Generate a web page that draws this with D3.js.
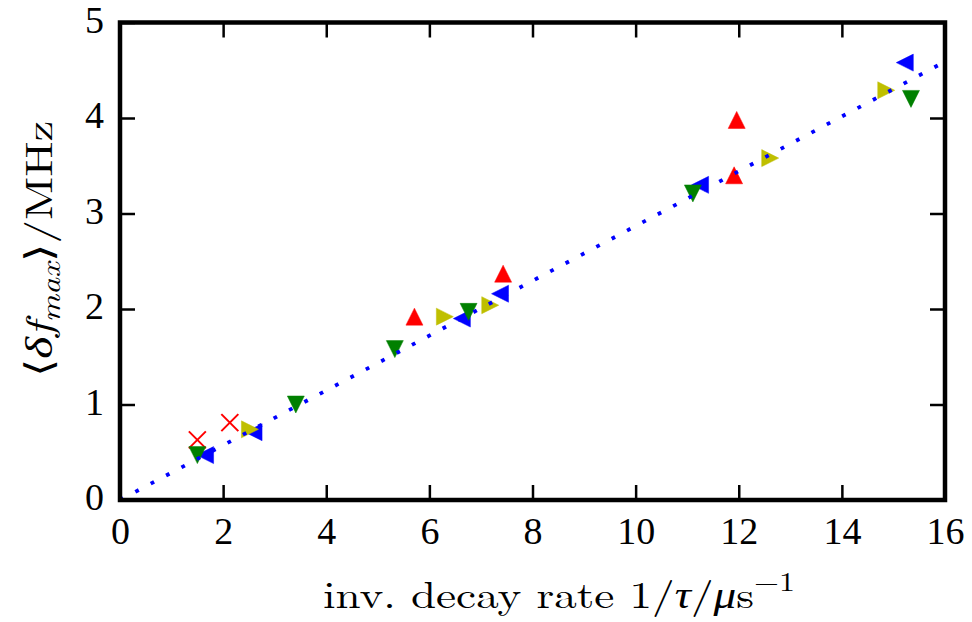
<!DOCTYPE html>
<html>
<head>
<meta charset="utf-8">
<script src="https://cdn.jsdelivr.net/npm/d3@7"></script>
<style>
  body { margin: 0; background: #fff; }
  svg { display: block; }
  text { font-family: "Latin Modern Roman", "CMU Serif", "Liberation Serif", serif; }
</style>
</head>
<body>
<svg id="chart" width="972" height="622"></svg>
<script>
// ---- data ----
const redCross = [[1.50, 0.63], [2.13, 0.81]];
const redUp = [[5.71, 1.92], [7.43, 2.37], [11.91, 3.40], [11.96, 3.98]];
const yellowRight = [[2.52, 0.74], [6.30, 1.92], [7.18, 2.04], [12.61, 3.58], [14.86, 4.29]];
const blueLeft = [[1.65, 0.47], [2.59, 0.71], [6.63, 1.90], [7.37, 2.16], [11.25, 3.30], [15.22, 4.58]];
const greenDown = [[1.50, 0.47], [3.41, 1.00], [5.33, 1.58], [6.76, 1.97], [11.11, 3.21], [15.34, 4.20]];
const fitLine = [[0, 0], [16, 4.59]];
const xTicks = [0, 2, 4, 6, 8, 10, 12, 14, 16];
const yTicks = [0, 1, 2, 3, 4, 5];

// ---- layout ----
const svg = d3.select("#chart");
const L = 120, R = 945, T = 22.5, B = 500;
const x = d3.scaleLinear().domain([0, 16]).range([L, R]);
const y = d3.scaleLinear().domain([0, 5]).range([B, T]);

const plot = svg.append("g");
svg.append("clipPath").attr("id", "clip")
  .append("rect").attr("x", L).attr("y", T).attr("width", R - L).attr("height", B - T);
plot.attr("clip-path", "url(#clip)");

const S = 17; // triangle size
function tri(dir) {
  const h = S / 2;
  if (dir === "up") return `M0,${-h}L${h},${h}L${-h},${h}Z`;
  if (dir === "down") return `M0,${h}L${h},${-h}L${-h},${-h}Z`;
  if (dir === "left") return `M${-h},0L${h},${-h}L${h},${h}Z`;
  return `M${h},0L${-h},${-h}L${-h},${h}Z`;
}
function drawTri(data, dir, color) {
  plot.append("g").selectAll("path").data(data).join("path")
    .attr("d", tri(dir))
    .attr("transform", d => `translate(${x(d[0])},${y(d[1])})`)
    .attr("fill", color)
    .attr("stroke", color).attr("stroke-width", 0.5);
}
// crosses
plot.append("g").selectAll("path").data(redCross).join("path")
  .attr("d", `M-8.5,-8.5L8.5,8.5M-8.5,8.5L8.5,-8.5`)
  .attr("transform", d => `translate(${x(d[0])},${y(d[1])})`)
  .attr("fill", "none").attr("stroke", "#ff0000").attr("stroke-width", 2);
drawTri(redUp, "up", "#ff0000");
drawTri(blueLeft, "left", "#0000ff");
drawTri(yellowRight, "right", "#bfbf00");
drawTri(greenDown, "down", "#008000");

// fit line (dotted)
plot.append("path").datum(fitLine)
  .attr("d", d3.line().x(d => x(d[0])).y(d => y(d[1])))
  .attr("fill", "none").attr("stroke", "#0000ff")
  .attr("stroke-width", 3.8).attr("stroke-dasharray", "3.8,13.6");

// axes
const fs = 38;
const gx = svg.append("g").attr("transform", `translate(0,${B})`)
  .call(d3.axisBottom(x).tickValues(xTicks).tickFormat(d3.format("d")).tickSizeInner(-15).tickSizeOuter(0).tickPadding(17));
const gxt = svg.append("g").attr("transform", `translate(0,${T})`)
  .call(d3.axisTop(x).tickValues(xTicks).tickFormat("").tickSizeInner(-15).tickSizeOuter(0));
const gy = svg.append("g").attr("transform", `translate(${L},0)`)
  .call(d3.axisLeft(y).tickValues(yTicks).tickFormat(d3.format("d")).tickSizeInner(-15).tickSizeOuter(0).tickPadding(16));
const gyr = svg.append("g").attr("transform", `translate(${R},0)`)
  .call(d3.axisRight(y).tickValues(yTicks).tickFormat("").tickSizeInner(-15).tickSizeOuter(0));
[gx, gxt, gy, gyr].forEach(g => {
  g.select(".domain").remove();
  g.selectAll(".tick line").attr("stroke", "#000").attr("stroke-width", 2.5);
  g.selectAll(".tick text").attr("font-size", fs).attr("fill", "#000")
    .style("font-family", '"Liberation Serif", serif');
});
gy.selectAll(".tick text").attr("dy", "0.25em");

// frame
svg.append("rect").attr("x", L).attr("y", T).attr("width", R - L).attr("height", B - T)
  .attr("fill", "none").attr("stroke", "#000").attr("stroke-width", 4.5);

// x label
const xl = svg.append("text").attr("transform", "translate(323,608) scale(1.19,1)")
  .attr("font-size", fs).attr("fill", "#000");
xl.append("tspan").text("inv. decay rate 1/");
xl.append("tspan").attr("font-style", "italic").text("τ");
xl.append("tspan").text("/");
xl.append("tspan").attr("font-style", "italic").text("μ");
xl.append("tspan").text("s");
xl.append("tspan").attr("font-size", 27).attr("dy", -17).text("−1");

// y label
const yl = svg.append("text").attr("transform", "translate(52,249) rotate(-90) scale(1.24,1)")
  .attr("text-anchor", "middle").attr("font-size", fs).attr("fill", "#000");
yl.append("tspan").text("⟨");
yl.append("tspan").attr("font-style", "italic").text("δf");
yl.append("tspan").attr("font-style", "italic").attr("font-size", 27).attr("dy", 8).text("max");
yl.append("tspan").attr("dy", -8).text("⟩/MHz");
</script>
</body>
</html>
